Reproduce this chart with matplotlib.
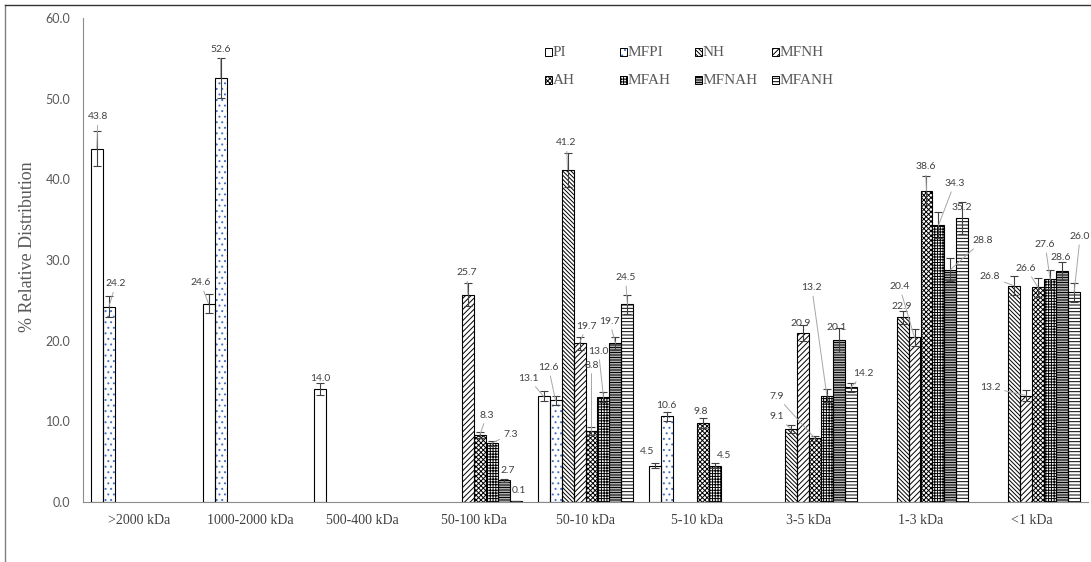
import matplotlib
matplotlib.use("Agg")
import matplotlib.pyplot as plt
from matplotlib.patches import Rectangle
from matplotlib.lines import Line2D
import numpy as np

# ---- data -----------------------------------------------------------------
categories = [">2000 kDa", "1000-2000 kDa", "500-400 kDa", "50-100 kDa",
              "50-10 kDa", "5-10 kDa", "3-5 kDa", "1-3 kDa", "<1 kDa"]
series_names = ["PI", "MFPI", "NH", "MFNH", "AH", "MFAH", "MFNAH", "MFANH"]

N = None
pi    = [43.8, 24.6, 14.0, N, 13.1, 4.5, N, N, N]
mfpi  = [24.2, 52.6, N, N, 12.6, 10.6, N, N, N]
nh    = [N, N, N, N, 41.2, N, 9.1, 22.9, 26.8]
mfnh  = [N, N, N, 25.7, 19.7, N, 20.9, 20.4, 13.2]
ah    = [N, N, N, 8.3, 8.8, 9.8, 7.9, 38.6, 26.6]
mfah  = [N, N, N, 7.3, 13.0, 4.5, 13.2, 34.3, 27.6]
mfnah = [N, N, N, 2.7, 19.7, N, 20.1, 28.8, 28.6]
mfanh = [N, N, N, 0.1, 24.5, N, 14.2, 35.2, 26.0]

pi_err    = [2.2, 1.2, 0.7, N, 0.6, 0.3, N, N, N]
mfpi_err  = [1.3, 2.5, N, N, 0.6, 0.5, N, N, N]
nh_err    = [N, N, N, N, 2.1, N, 0.5, 0.8, 1.2]
mfnh_err  = [N, N, N, 1.4, 0.8, N, 1.0, 1.0, 0.7]
ah_err    = [N, N, N, 0.4, 0.5, 0.6, 0.3, 1.8, 1.2]
mfah_err  = [N, N, N, 0.3, 0.6, 0.3, 0.8, 1.6, 1.2]
mfnah_err = [N, N, N, 0.2, 0.8, N, 1.5, 1.4, 1.1]
mfanh_err = [N, N, N, 0.0, 1.2, N, 0.6, 2.0, 1.2]

values = [pi, mfpi, nh, mfnh, ah, mfah, mfnah, mfanh]
errors = [pi_err, mfpi_err, nh_err, mfnh_err, ah_err, mfah_err, mfnah_err, mfanh_err]

# ---- styling ----------------------------------------------------------------
hatches = ["", "...", "\\" * 8, "/" * 6, "xxxxxxx", "++++++", "-" * 10, "-----"]
hatch_colors = ["black", "#4472C4", "black", "black", "black", "black", "black", "black"]

# label offsets (pixels) from the top of each bar
label_offsets = {
    (0, 0): (1, 32), (1, 0): (7, 23), (0, 1): (-8, 21), (1, 1): (0, 28), (0, 2): (0, 11),
    (3, 3): (-1, 22), (4, 3): (7, 20), (5, 3): (19, 9), (6, 3): (4, 10), (7, 3): (3, 11),
    (0, 4): (-15, 18), (1, 4): (-7, 33), (2, 4): (-1, 27), (3, 4): (7, 17),
    (4, 4): (0, 66), (5, 4): (-5, 46), (6, 4): (-6, 22), (7, 4): (-2, 27),
    (0, 5): (-8, 14), (1, 5): (-1, 11), (4, 5): (-2, 11), (5, 5): (9, 10),
    (2, 6): (-14, 12), (3, 6): (-2, 10), (4, 6): (-38, 42), (5, 6): (-15, 108),
    (6, 6): (-2, 12), (7, 6): (13, 14),
    (2, 7): (-1, 11), (3, 7): (-15, 51), (4, 7): (-1, 24), (5, 7): (16, 42),
    (6, 7): (32, 29), (7, 7): (-1, 11),
    (2, 8): (-24, 9), (3, 8): (-36, 8), (4, 8): (-12, 19), (5, 8): (-5, 35),
    (6, 8): (-1, 14), (7, 8): (6, 56),
}

plt.rcParams["hatch.linewidth"] = 0.7
W, H = 1091, 562
fig = plt.figure(figsize=(W / 100, H / 100), dpi=100)
ax = fig.add_axes([83 / W, (H - 502) / H, 1005 / W, 484 / H])

bar_w = 0.1074
label_font = dict(family="Lato", size=7.5, color="#404040")

for i, (vals, errs) in enumerate(zip(values, errors)):
    idx = [k for k, v in enumerate(vals) if v is not None]
    xs = np.array(idx) + (i - 3.5) * bar_w
    vs = np.array([vals[k] for k in idx])
    es = np.array([errs[k] for k in idx])
    # hatched fill, then a black outline on top
    ax.bar(xs, vs, bar_w, color="white", edgecolor=hatch_colors[i],
           hatch=hatches[i], linewidth=0, zorder=2)
    ax.bar(xs, vs, bar_w, fill=False, edgecolor="black", linewidth=0.8, zorder=3)
    ax.errorbar(xs, vs, yerr=es, fmt="none", ecolor="#404040", elinewidth=0.8,
                capsize=3, capthick=0.8, zorder=4)
    for x, v, k in zip(xs, vs, idx):
        dx, dy = label_offsets[(i, k)]
        far = np.hypot(dx, dy) > 18 or abs(dx) > 10
        arrow = dict(arrowstyle="-", color="#a6a6a6", lw=0.7, shrinkA=1, shrinkB=0) if far else None
        ax.annotate(f"{v:.1f}", xy=(x, v), xytext=(dx, dy), textcoords="offset pixels",
                    ha="center", va="center", arrowprops=arrow, zorder=5, **label_font)

ax.set_xlim(-0.5, len(categories) - 0.5)
ax.set_ylim(0, 60)
ax.set_yticks(np.arange(0, 61, 10))
ax.set_yticklabels([f"{t:.1f}" for t in np.arange(0, 61, 10)], family="Lato", size=9, color="#595959")
ax.set_xticks(range(len(categories)))
ax.set_xticklabels(categories, family="Liberation Serif", size=10, color="#404040")
ax.tick_params(axis="both", length=0)
ax.tick_params(axis="y", pad=9)
ax.tick_params(axis="x", pad=9)
for s in ["top", "right"]:
    ax.spines[s].set_visible(False)
ax.spines["left"].set_color("#8c8c8c")
ax.spines["bottom"].set_color("#8c8c8c")

fig.text(28 / W, 1 - 247 / H, "% Relative Distribution", rotation=90, ha="center", va="center",
         family="Liberation Serif", size=13, color="#595959")

# legend: 2 rows x 4 columns of small swatches
leg_x = [545, 620, 695, 772]
leg_y = [52, 80]
sw = 7
for i, name in enumerate(series_names):
    cx = leg_x[i % 4]
    cy = leg_y[i // 4]
    fig.add_artist(Rectangle((cx / W, 1 - (cy + sw / 2) / H), sw / W, sw / H,
                             transform=fig.transFigure, facecolor="white",
                             edgecolor=hatch_colors[i], hatch=hatches[i], linewidth=0))
    fig.add_artist(Rectangle((cx / W, 1 - (cy + sw / 2) / H), sw / W, sw / H,
                             transform=fig.transFigure, fill=False,
                             edgecolor="black", linewidth=0.7))
    fig.text((cx + sw + 1) / W, 1 - cy / H, name, ha="left", va="center",
             family="Liberation Serif", size=11, color="#595959")

# outer frame lines
fig.add_artist(Line2D([5 / W, 5 / W], [0, 1 - 5 / H], transform=fig.transFigure,
                      color="#808080", lw=1))
fig.add_artist(Line2D([5 / W, 1], [1 - 5 / H, 1 - 5 / H], transform=fig.transFigure,
                      color="#333333", lw=1))

fig.savefig("out.png", dpi=100)
